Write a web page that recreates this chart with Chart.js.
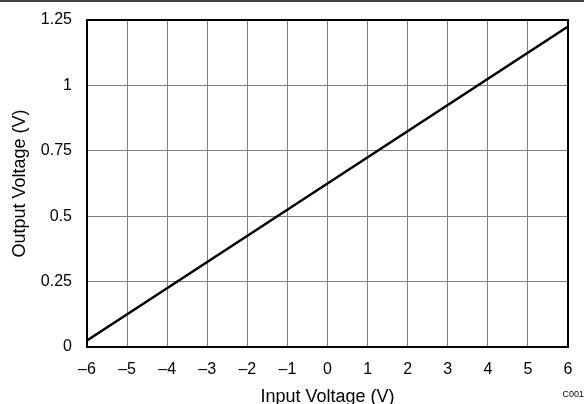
<!DOCTYPE html>
<html>
<head>
<meta charset="utf-8">
<script src="https://cdn.jsdelivr.net/npm/chart.js@4.4.1/dist/chart.umd.min.js"></script>
<style>
  html, body { margin: 0; padding: 0; background: #fff; }
  #wrap { width: 584px; height: 404px; position: relative; }
</style>
</head>
<body>
<div id="wrap"><canvas id="vChart" width="584" height="404"></canvas></div>
<script>
// transfer curve: input voltage vs output voltage
var inputVoltage = [-6, 0, 6];
var outputVoltage = [0.025, 0.625, 1.225];

var xTicks = [-6, -5, -4, -3, -2, -1, 0, 1, 2, 3, 4, 5, 6];
var yTicks = [0, 0.25, 0.5, 0.75, 1, 1.25];

var points = inputVoltage.map(function (x, i) {
    return { x: x, y: outputVoltage[i] };
});

var FONT = 'Liberation Sans, Arial, sans-serif';

// Draws the black frame around the plot area, the rule at the top and the C001 tag
var framePlugin = {
    id: 'frame',
    afterDraw: function (chart) {
        var ctx = chart.ctx;
        var a = chart.chartArea;
        ctx.save();
        ctx.strokeStyle = '#000';
        ctx.lineWidth = 2;
        ctx.strokeRect(a.left, a.top, a.right - a.left, a.bottom - a.top);
        ctx.strokeStyle = '#444';
        ctx.lineWidth = 2;
        ctx.beginPath();
        ctx.moveTo(0, 1);
        ctx.lineTo(chart.width, 1);
        ctx.stroke();
        ctx.fillStyle = '#000';
        ctx.font = '9px ' + FONT;
        ctx.textAlign = 'right';
        ctx.textBaseline = 'middle';
        ctx.fillText('C001', chart.width, 395);
        ctx.restore();
    }
};

function dash(v) {
    return String(v).replace('-', '\u2013');
}

var ctx = document.getElementById('vChart').getContext('2d');
var vChart = new Chart(ctx, {
    type: 'scatter',
    data: {
        datasets: [{
            data: points,
            showLine: true,
            borderColor: '#000',
            borderWidth: 2.5,
            pointRadius: 0,
            tension: 0
        }]
    },
    options: {
        responsive: false,
        animation: false,
        layout: { padding: { top: 20, right: 16, left: 0, bottom: 0 } },
        plugins: {
            legend: { display: false },
            tooltip: { enabled: false }
        },
        scales: {
            x: {
                type: 'linear',
                min: -6,
                max: 6,
                afterBuildTicks: function (axis) {
                    axis.ticks = xTicks.map(function (v) { return { value: v }; });
                },
                afterFit: function (axis) {
                    axis.height = 57;
                    axis.paddingLeft = 0;
                    axis.paddingRight = 0;
                },
                grid: { color: '#808080', lineWidth: 1, drawTicks: false },
                border: { display: false },
                ticks: {
                    color: '#000',
                    padding: 13,
                    maxRotation: 0,
                    font: { family: FONT, size: 16 },
                    callback: function (v) { return dash(v); }
                },
                title: {
                    display: true,
                    text: 'Input Voltage (V)',
                    color: '#000',
                    font: { family: FONT, size: 18, lineHeight: 1 },
                    padding: { top: 0, bottom: -2 }
                }
            },
            y: {
                min: 0,
                max: 1.25,
                afterBuildTicks: function (axis) {
                    axis.ticks = yTicks.map(function (v) { return { value: v }; });
                },
                afterFit: function (axis) {
                    axis.width = 87;
                    axis.paddingTop = 0;
                    axis.paddingBottom = 0;
                },
                grid: { color: '#808080', lineWidth: 1, drawTicks: false },
                border: { display: false },
                ticks: {
                    color: '#000',
                    padding: 15,
                    font: { family: FONT, size: 16 },
                    callback: function (v) { return String(v); }
                },
                title: {
                    display: true,
                    text: 'Output Voltage (V)',
                    color: '#000',
                    font: { family: FONT, size: 18 },
                    padding: { top: 9, bottom: 0 }
                }
            }
        }
    },
    plugins: [framePlugin]
});
</script>
</body>
</html>
